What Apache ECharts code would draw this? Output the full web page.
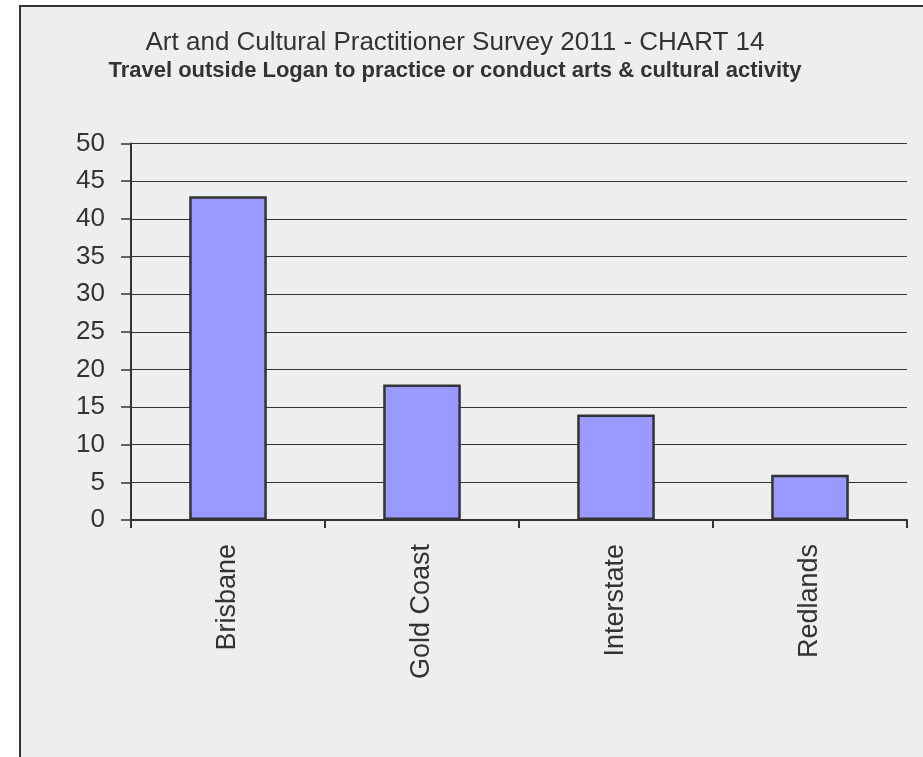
<!DOCTYPE html>
<html>
<head>
<meta charset="utf-8">
<script src="https://cdn.jsdelivr.net/npm/echarts@6/dist/echarts.min.js"></script>
<style>
html,body{margin:0;padding:0;background:#fff;}
#chart{width:923px;height:757px;}
</style>
</head>
<body>
<div id="chart"></div>
<script>
const titleText = 'Art and Cultural Practitioner Survey 2011 - CHART 14';
const subtitleText = 'Travel outside Logan to practice or conduct arts & cultural activity';
const categories = ['Brisbane', 'Gold Coast', 'Interstate', 'Redlands'];
const values = [43, 18, 14, 6];
const yMin = 0, yMax = 50, yStep = 5;

const chart = echarts.init(document.getElementById('chart'));
const font = '"Liberation Sans", Arial, sans-serif';
chart.setOption({
  backgroundColor: '#ffffff',
  animation: false,
  graphic: [{
    type: 'rect', z: -10, silent: true,
    shape: { x: 20, y: 6, width: 1000, height: 900 },
    style: { fill: '#eeeeee', stroke: '#333333', lineWidth: 2 }
  }],
  title: [{
    text: titleText, left: 450, textAlign: 'center', top: 25,
    textStyle: { fontFamily: font, fontSize: 26, fontWeight: 'normal', color: '#333333' }
  }, {
    text: subtitleText, left: 450, textAlign: 'center', top: 55,
    textStyle: { fontFamily: font, fontSize: 22, fontWeight: 'bold', color: '#333333' }
  }],
  grid: { left: 131, right: 16, top: 143.5, bottom: 237, containLabel: false },
  xAxis: {
    type: 'category', data: categories,
    axisLine: { lineStyle: { color: '#333333', width: 2 } },
    axisTick: { show: true, length: 8, alignWithLabel: false, lineStyle: { color: '#333333', width: 2 } },
    axisLabel: { rotate: 90, margin: 24, fontFamily: font, fontSize: 27, color: '#333333' }
  },
  yAxis: {
    type: 'value', min: yMin, max: yMax, interval: yStep,
    axisLine: { show: true, lineStyle: { color: '#333333', width: 2 } },
    axisTick: { show: true, length: 10, lineStyle: { color: '#333333', width: 1.5 } },
    axisLabel: { margin: 26, fontFamily: font, fontSize: 26, color: '#333333' },
    splitLine: { show: true, lineStyle: { color: '#333333', width: 1 } }
  },
  series: [{
    type: 'bar', data: values, barWidth: '40%',
    itemStyle: { color: '#9999ff', borderColor: '#333333', borderWidth: 2.5 }
  }]
});
</script>
</body>
</html>
